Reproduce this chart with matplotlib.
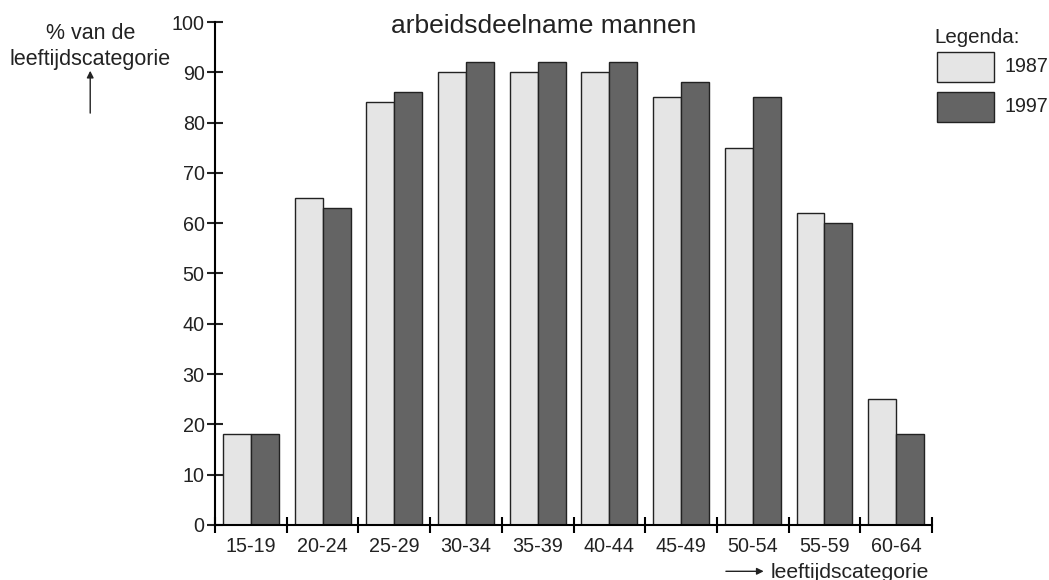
import numpy as np
import matplotlib as mpl
mpl.use('Agg')
mpl.rcParams['font.family'] = ['Liberation Sans', 'DejaVu Sans']
mpl.rcParams['font.size'] = 12
import matplotlib.pyplot as plt

categories = ['15-19', '20-24', '25-29', '30-34', '35-39',
              '40-44', '45-49', '50-54', '55-59', '60-64']
v1987 = [18, 65, 84, 90, 90, 90, 85, 75, 62, 25]
v1997 = [18, 63, 86, 92, 92, 92, 88, 85, 60, 18]
light = '#e5e5e5'
dark = '#646464'
ink = '#222222'

fig = plt.figure(figsize=(10.49, 5.8), dpi=100)
ax = fig.add_axes([0.205, 0.095, 0.6835, 0.867])

x = np.arange(len(categories)) + 0.5
w = 0.39
ax.bar(x - w/2, v1987, w, color=light, edgecolor=ink, linewidth=1)
ax.bar(x + w/2, v1997, w, color=dark, edgecolor=ink, linewidth=1)

ax.set_xlim(0, 10)
ax.set_ylim(0, 100)
ax.spines['top'].set_visible(False)
ax.spines['right'].set_visible(False)
ax.spines['left'].set_linewidth(1.5)
ax.spines['bottom'].set_linewidth(1.5)

ax.set_yticks(range(0, 101, 10))
ax.tick_params(axis='y', direction='inout', length=11, width=1.5, labelsize=14.2, pad=2, colors=ink)
ax.set_xticks(range(0, 11))
ax.set_xticklabels([])
ax.tick_params(axis='x', which='major', direction='inout', length=12, width=1.5)
ax.set_xticks(x, minor=True)
ax.set_xticklabels(categories, minor=True)
ax.tick_params(axis='x', which='minor', length=0, labelsize=14.2, pad=9, colors=ink)

fig.text(0.518, 0.955, 'arbeidsdeelname mannen', ha='center', va='center', fontsize=19, color=ink)

# y label with arrow
fig.text(0.086, 0.942, '% van de', ha='center', va='center', fontsize=15.5, color=ink)
fig.text(0.086, 0.898, 'leeftijdscategorie', ha='center', va='center', fontsize=15.5, color=ink)
fig.add_artist(mpl.patches.FancyArrowPatch((0.086, 0.805), (0.086, 0.878), transform=fig.transFigure,
               arrowstyle='-|>', mutation_scale=10, color=ink, linewidth=1, shrinkA=0, shrinkB=0))

# x label with arrow
fig.text(0.735, 0.004, 'leeftijdscategorie', ha='left', va='baseline', fontsize=15.2, color=ink)
fig.add_artist(mpl.patches.FancyArrowPatch((0.692, 0.015), (0.728, 0.015), transform=fig.transFigure,
               arrowstyle='-|>', mutation_scale=10, color=ink, linewidth=1, shrinkA=0, shrinkB=0))

# legend
fig.text(0.891, 0.935, 'Legenda:', ha='left', va='center', fontsize=14.8, color=ink)
fig.add_artist(mpl.patches.Rectangle((0.893, 0.859), 0.055, 0.051, transform=fig.transFigure,
               facecolor=light, edgecolor=ink, linewidth=1))
fig.add_artist(mpl.patches.Rectangle((0.893, 0.790), 0.055, 0.051, transform=fig.transFigure,
               facecolor=dark, edgecolor=ink, linewidth=1))
fig.text(0.958, 0.886, '1987', ha='left', va='center', fontsize=14.2, color=ink)
fig.text(0.958, 0.817, '1997', ha='left', va='center', fontsize=14.2, color=ink)

fig.savefig('out.png', dpi=100)
